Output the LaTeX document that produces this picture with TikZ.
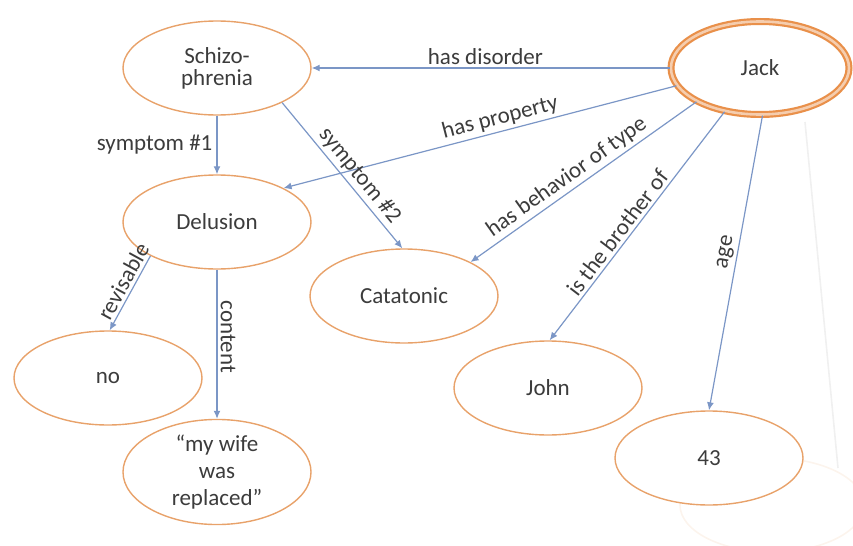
\documentclass[tikz,border=0pt]{standalone}
\usepackage{fontspec}
\setmainfont{Carlito}
\usetikzlibrary{shapes.geometric,arrows.meta}
\definecolor{ell}{HTML}{E8A26A}
\definecolor{jackor}{HTML}{E9904A}
\definecolor{edge}{HTML}{7B96C6}
\definecolor{txt}{HTML}{3C3C3C}
\begin{document}
\begin{tikzpicture}[x=0.5pt,y=-0.5pt,
  concept/.style={ellipse, draw=ell, fill=white, line width=0.7pt, minimum width=94pt, minimum height=47pt,
    inner sep=0pt, align=center, text=txt, font=\fontsize{11.5}{11}\selectfont},
  jackstyle/.style={ellipse, draw=jackor, fill=white, line width=1.1pt, double=jackor!45, double distance=1.3pt,
    minimum width=89pt, minimum height=46.5pt, inner sep=0pt, text=txt, font=\fontsize{11.5}{11}\selectfont},
  rel/.style={draw=edge, line width=0.6pt, -{Latex[length=4pt,width=3.5pt]}},
  lab/.style={sloped, above, text=txt, inner sep=1.5pt, font=\fontsize{11.5}{13}\selectfont},
  ghost/.style={draw=black!6, line width=0.8pt}]
\useasboundingbox (0,0) rectangle (853,546);
% faint background traces
\draw[ghost] (805,122) -- (838,468);
\draw[draw=ell!12, line width=0.8pt] (772,505) ellipse [x radius=92, y radius=47];
% nodes
\node[concept] (schizo) at (217,68) {Schizo-\\phrenia};
\node[concept] (delusion) at (217,222) {Delusion};
\node[concept] (cata) at (404,296) {Catatonic};
\node[concept] (no) at (108,378) {no};
\node[concept, font=\fontsize{11.5}{13.5}\selectfont] (wife) at (217,472) {“my wife\\was\\replaced”};
\node[concept] (john) at (548,388) {John};
\node[concept] (n43) at (709,458) {43};
\node[jackstyle] (jack) at (760,68) {Jack};
% relations
\draw[rel] (jack.180) -- node[lab, pos=0.515]{has disorder} (schizo.east);
\draw[rel] (jack.192) -- node[lab, pos=0.44]{has property} (delusion.27);
\draw[rel] (schizo.south) -- node[left, text=txt, inner sep=2pt, font=\fontsize{11.5}{13}\selectfont]{symptom \#1} (delusion.north);
\draw[rel] (schizo.332) -- node[lab, pos=0.56]{symptom \#2} (cata.92);
\draw[rel] (jack.208) -- node[lab, pos=0.54]{has behavior of type} (cata.27);
\draw[rel] (jack.231) -- node[lab, pos=0.56]{is the brother of} (john.88);
\draw[rel] (jack.273) -- node[lab, pos=0.47]{age} (n43.90);
\draw[rel] (delusion.207) -- node[lab, pos=0.42]{revisable} (no.88);
\draw[rel] (delusion.south) -- node[lab, pos=0.45]{content} (wife.north);
\end{tikzpicture}
\end{document}
